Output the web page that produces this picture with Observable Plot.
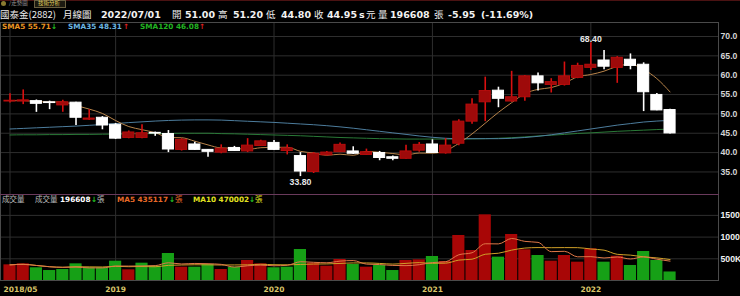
<!DOCTYPE html>
<html><head><meta charset="utf-8">
<script src="https://cdn.jsdelivr.net/npm/d3@7"></script>
<script src="https://cdn.jsdelivr.net/npm/@observablehq/plot@0.6"></script>
<style>
html,body{margin:0;padding:0;background:#000;}
#wrap{position:relative;width:740px;height:296px;background:#000;overflow:hidden;font-family:"DejaVu Sans",sans-serif;}
.t{position:absolute;white-space:pre;line-height:1;}
.h{font-size:9.5px;font-weight:bold;color:#f2f2f2;top:10.4px;}
.hc{font-family:"Noto Sans CJK TC",sans-serif;font-size:9.5px;color:#eeeeee;top:9.9px;line-height:9.5px;}
.tab{font-family:"Noto Sans CJK TC",sans-serif;font-size:5.5px;top:0.5px;line-height:5.5px;}
.lg{font-size:7.3px;font-weight:bold;top:23.1px;}
.vl{font-size:7.3px;font-weight:bold;top:195.8px;}
.vc{font-family:"Noto Sans CJK TC",sans-serif;font-size:7.5px;top:195px;}
#price{position:absolute;left:0;top:22px;}
#vol{position:absolute;left:0;top:194px;}
</style></head>
<body><div id="wrap">
<div style="position:absolute;left:0;top:0;width:740px;height:1px;background:#4a1212"></div>
<div style="position:absolute;left:1px;top:1px;width:5px;height:5px;border-radius:3px;background:#8a7a30"></div>
<span class="t tab" style="left:9px;color:#9a9a9a">/走勢圖</span>
<div style="position:absolute;left:34px;top:0px;width:30px;height:6px;border:1px solid #6a6040;background:#1c1a10"></div>
<span class="t tab" style="left:38px;color:#e0d060">技術分析</span>

<span class="t hc" style="left:0px">國泰金(2882)</span>
<span class="t hc" style="left:63px">月線圖</span>
<span class="t h" style="left:101px">2022/07/01</span>
<span class="t hc" style="left:172px">開</span>
<span class="t h" style="left:185px">51.00</span>
<span class="t hc" style="left:218px">高</span>
<span class="t h" style="left:233px">51.20</span>
<span class="t hc" style="left:266px">低</span>
<span class="t h" style="left:281px">44.80</span>
<span class="t hc" style="left:314px">收</span>
<span class="t h" style="left:327px">44.95</span>
<span class="t h" style="left:359px">s</span>
<span class="t hc" style="left:366px">元</span>
<span class="t hc" style="left:378px">量</span>
<span class="t h" style="left:390px">196608</span>
<span class="t hc" style="left:434px">張</span>
<span class="t h" style="left:448px">-5.95</span>
<span class="t h" style="left:481px">(-11.69%)</span>

<div id="price"></div>
<div id="vol"></div>

<span class="t lg" style="left:2px;color:#eb9422">SMA5 55.71</span>
<span class="t lg" style="left:51px;color:#22c022">↓</span>
<span class="t lg" style="left:68px;color:#6cb6e2">SMA35 48.31</span>
<span class="t lg" style="left:123px;color:#e02020">↑</span>
<span class="t lg" style="left:140px;color:#22b422">SMA120 46.08</span>
<span class="t lg" style="left:199px;color:#e02020">↑</span>

<span class="t vc" style="left:2px;color:#bbbbbb">成交量</span>
<span class="t vc" style="left:35px;color:#bbbbbb">成交量</span>
<span class="t vl" style="left:60px;color:#ffffff">196608</span>
<span class="t vl" style="left:91px;color:#22c022">↓</span>
<span class="t vc" style="left:97px;color:#bbbbbb">張</span>
<span class="t vl" style="left:117px;color:#e86a28">MA5 435117</span>
<span class="t vl" style="left:169px;color:#22c022">↓</span>
<span class="t vc" style="left:175px;color:#e86a28">張</span>
<span class="t vl" style="left:193px;color:#e0e020">MA10 470002</span>
<span class="t vl" style="left:249px;color:#22c022">↓</span>
<span class="t vc" style="left:255px;color:#e0e020">張</span>
</div>
<script>
// Monthly candles, 2018/05 .. 2022/07 (51 months)
const open  = [53.2,53.2,53.3,53.0,52.2,52.9,48.5,49.0,47.2,43.8, 43.8,45.1,44.8,40.7,42.1,40.7,40.0,41.2,40.3,41.7, 42.5,40.4,39.1,35.0,39.3,40.1,40.3,39.4,39.9,38.8, 38.4,40.5,42.1,39.8,42.3,48.0,53.0,56.0,53.2,54.3, 59.7,57.5,57.5,59.3,61.9,63.8,61.9,64.0,62.7,54.9, 51.0];
const high  = [55.2,56.2,53.6,53.3,53.5,53.0,51.1,49.3,47.5,45.6, 47.2,45.3,45.7,43.6,42.7,40.8,42.0,41.6,43.6,43.2, 43.1,42.0,40.0,40.0,40.3,42.5,41.5,40.9,40.3,39.1, 41.9,42.6,43.3,43.6,48.5,53.9,59.5,56.9,61.0,59.9, 60.6,59.1,63.4,63.1,68.4,66.4,64.8,65.5,63.2,55.3, 51.2];
const low   = [52.8,52.4,50.4,51.1,50.4,47.0,48.3,45.9,43.4,43.6, 43.6,44.2,40.0,40.4,40.6,38.8,39.7,40.3,40.0,41.6, 40.6,39.4,33.8,34.6,39.1,40.0,39.5,39.3,37.9,37.9, 38.3,40.1,39.8,39.6,41.8,47.3,48.0,51.6,53.0,53.3, 55.9,55.4,57.2,59.1,61.2,61.4,57.9,61.4,50.6,50.8, 44.8];
const close = [53.4,53.5,52.6,52.8,53.0,49.0,48.8,47.0,43.6,45.2, 45.0,44.9,40.8,43.3,40.7,40.2,41.0,40.4,41.8,42.9, 40.7,41.1,35.1,39.7,40.0,42.0,39.7,40.1,38.6,38.4, 40.3,42.0,39.9,41.8,48.0,52.4,55.9,53.9,54.3,59.7, 57.9,58.2,59.7,62.4,62.7,62.2,64.5,62.4,55.6,50.9, 44.95];
// Long moving averages
const sma35  = [46.1,46.25,46.4,46.55,46.7,46.85,47.05,47.25,47.5,47.75, 47.95,48.15,48.3,48.4,48.45,48.45,48.4,48.25,48.1,47.95, 47.8,47.6,47.4,47.2,46.95,46.65,46.3,45.9,45.5,45.1, 44.7,44.3,43.95,43.7,43.6,43.6,43.6,43.6,43.7,43.9, 44.2,44.6,45.1,45.6,46.1,46.6,47.1,47.5,47.9,48.15, 48.31];
const sma120 = [44.55,44.6,44.6,44.65,44.65,44.7,44.7,44.75,44.8,44.85, 44.9,44.9,44.95,45.0,45.0,45.0,44.9,44.85,44.75,44.65, 44.55,44.45,44.35,44.2,44.05,43.9,43.8,43.7,43.6,43.55, 43.5,43.5,43.5,43.5,43.5,43.55,43.6,43.7,43.85,44.05, 44.3,44.5,44.7,44.95,45.1,45.3,45.5,45.65,45.8,45.95, 46.08];
// Volume in thousand lots, and whether the bar is red (up) or green (down)
const volume = [361,384,293,230,253,384,293,293,445,246, 399,330,622,307,307,369,253,307,461,384, 293,307,714,399,330,484,369,307,346,230, 461,476,553,438,1037,691,1513,538,1060,707, 576,445,576,422,730,422,560,346,668,461, 196.608];
const volUp  = [1,1,0,0,0,0,0,0,0,1, 0,0,0,1,0,0,1,0,1,1, 0,0,0,1,1,1,0,1,0,0, 1,1,0,1,1,1,1,0,1,1, 0,1,1,1,1,0,1,0,0,0, 0];
// Axis ticks
const tickIdx = [0, 8, 20, 32, 44];
const xTickLabels = ["2018/05", "2019", "2020", "2021", "2022"];
const priceTicks = [35, 40, 45, 50, 55, 60, 65, 70];
const volTicks = [500, 1000, 1500];
const volTickLabels = ["500K", "1000", "1500"];

const priceData = open.map((o, i) => ({i, o, h: high[i], l: low[i], c: close[i], up: close[i] >= open[i]}));
const volData = volume.map((v, i) => ({i, v, up: volUp[i] === 1}));
const xTicks = tickIdx.map((i, k) => ({i, label: xTickLabels[k]}));
const xDomain = [-0.72, 53.67];
const axisFont = {background: "transparent", color: "#d8d8d8", fontFamily: "'Liberation Sans', Arial, sans-serif", fontSize: "8.7px", fontWeight: "bold", overflow: "visible"};

const price = Plot.plot({
  width: 740, height: 172,
  marginLeft: 0, marginRight: 22, marginTop: 0, marginBottom: 0,
  style: axisFont,
  x: {domain: xDomain, axis: null},
  y: {domain: [29.17, 73.62], axis: null},
  color: {type: "identity"},
  marks: [
    Plot.gridY(priceTicks, {stroke: "#2e2e2e", strokeOpacity: 1}),
    Plot.gridX(tickIdx, {stroke: "#2e2e2e", strokeOpacity: 1}),
    Plot.axisY(priceTicks, {anchor: "right", label: null, tickSize: 0, tickPadding: 2, tickFormat: d => d.toFixed(1), fill: "#d4d4d4"}),
    Plot.lineY(sma120, {x: (d, i) => i, y: d => d, stroke: "#2a7a38", strokeWidth: 1, curve: "monotone-x"}),
    Plot.lineY(sma35, {x: (d, i) => i, y: d => d, stroke: "#4d7d9d", strokeWidth: 1, curve: "monotone-x"}),
    Plot.lineY(priceData, Plot.windowY({k: 5, anchor: "end"}, {x: "i", y: "c", stroke: "#b8844a", strokeWidth: 1, curve: "monotone-x"})),
    Plot.ruleX(priceData, {x: "i", y1: "l", y2: "h", stroke: d => d.up ? "#d81010" : "#ffffff", strokeWidth: 1.6}),
    Plot.rect(priceData, {x1: d => d.i - 0.42, x2: d => d.i + 0.42, y1: "o", y2: "c",
      fill: d => d.up ? "#9e0a0a" : "#ffffff", stroke: d => d.up ? "#b80c0c" : "#ffffff", strokeWidth: 1}),
    Plot.text(priceData, Plot.selectMaxY({x: "i", y: "h", text: d => d.h.toFixed(2), lineAnchor: "bottom", dy: -1, fill: "#e8e8e8", fontSize: 8.7})),
    Plot.text(priceData, Plot.selectMinY({x: "i", y: "l", text: d => d.l.toFixed(2), lineAnchor: "top", dy: 2, fill: "#e8e8e8", fontSize: 8.7})),
    Plot.frame({stroke: "#4a4a4a"}),
    Plot.frame({anchor: "bottom", stroke: "#4a3446"})
  ]
});
document.getElementById("price").append(price);

const vol = Plot.plot({
  width: 740, height: 102,
  marginLeft: 0, marginRight: 22, marginTop: 0, marginBottom: 16,
  style: axisFont,
  x: {domain: xDomain, axis: null},
  y: {domain: [0, 1981.6], axis: null},
  color: {type: "identity"},
  marks: [
    Plot.gridY(volTicks, {stroke: "#2e2e2e", strokeOpacity: 1}),
    Plot.gridX(tickIdx, {stroke: "#2e2e2e", strokeOpacity: 1}),
    Plot.axisY(volTicks, {anchor: "right", label: null, tickSize: 0, tickPadding: 2, tickFormat: d => volTickLabels[volTicks.indexOf(d)], fill: "#f0f0f0"}),
    Plot.rectY(volData, {x1: d => d.i - 0.46, x2: d => d.i + 0.46, y: "v", fill: d => d.up ? "#a80606" : "#16a016"}),
    Plot.lineY(volData, Plot.windowY({k: 10, anchor: "end"}, {x: "i", y: "v", stroke: "#d0a028", strokeWidth: 1, curve: "monotone-x"})),
    Plot.lineY(volData, Plot.windowY({k: 5, anchor: "end"}, {x: "i", y: "v", stroke: "#e07848", strokeWidth: 1, curve: "monotone-x"})),
    Plot.frame({stroke: "#4a4a4a"}),
    Plot.frame({anchor: "top", stroke: "#6a3a5c"}),
    Plot.text(xTicks.slice(0, 1), {x: "i", text: "label", frameAnchor: "bottom", lineAnchor: "middle", dy: 9.5, dx: -6.5, textAnchor: "start", fill: "#d8c468", fontFamily: "DejaVu Sans", fontSize: 7.5}),
    Plot.text(xTicks.slice(1), {x: "i", text: "label", frameAnchor: "bottom", lineAnchor: "middle", dy: 9.5, textAnchor: "middle", fill: "#d8c468", fontFamily: "DejaVu Sans", fontSize: 7.5})
  ]
});
document.getElementById("vol").append(vol);
</script>
</body></html>
